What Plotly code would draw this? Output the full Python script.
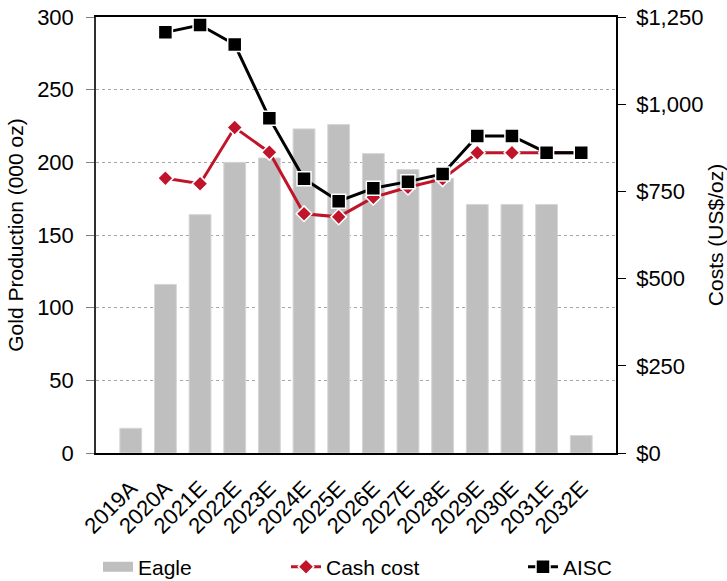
import plotly.graph_objects as go

# Annual data
years = ["2019A", "2020A", "2021E", "2022E", "2023E", "2024E", "2025E",
         "2026E", "2027E", "2028E", "2029E", "2030E", "2031E", "2032E"]
eagle_koz = [17, 116, 164, 200, 203, 223, 226, 206, 195, 189, 171, 171, 171, 12]
cash_cost = [None, 788, 772, 933, 862, 686, 677, 733, 762, 786, 861, 861, 861, 861]
aisc = [None, 1206, 1227, 1171, 960, 786, 722, 759, 778, 800, 909, 909, 861, 861]

left_ticks = [0, 50, 100, 150, 200, 250, 300]
right_ticks = [0, 250, 500, 750, 1000, 1250]
right_labels = ["$0", "$250", "$500", "$750", "$1,000", "$1,250"]

BAR = "#BFBFBF"
RED = "#C0142A"
FONT = "Arial, Liberation Sans, sans-serif"

fig = go.Figure()

fig.add_trace(go.Bar(
    x=years, y=eagle_koz, name="Eagle", marker=dict(color=BAR, line=dict(color="#D6D6D6", width=1)),
    showlegend=False, yaxis="y",
))
# legend swatch for the production bars (wide rectangle)
fig.add_trace(go.Scatter(
    x=[None], y=[None], mode="lines", name="Eagle",
    line=dict(color=BAR, width=12), legend="legend", yaxis="y",
))
fig.add_trace(go.Scatter(
    x=years, y=cash_cost, name="Cash cost", mode="lines+markers", yaxis="y2",
    line=dict(color=RED, width=3),
    marker=dict(symbol="diamond", size=12, color=RED, line=dict(color="white", width=1.5)),
    legend="legend2",
))
fig.add_trace(go.Scatter(
    x=years, y=aisc, name="AISC", mode="lines+markers", yaxis="y2",
    line=dict(color="black", width=3),
    marker=dict(symbol="square", size=14, color="black", line=dict(color="white", width=1.5)),
    legend="legend3",
))

legend_common = dict(orientation="h", xref="container", yref="container",
                     yanchor="middle", y=0.024, xanchor="left",
                     font=dict(family=FONT, size=21, color="black"),
                     bgcolor="rgba(0,0,0,0)", borderwidth=0)

fig.update_layout(
    width=727, height=581,
    margin=dict(l=96, r=111, t=17, b=128, autoexpand=False),
    paper_bgcolor="white", plot_bgcolor="white",
    font=dict(family=FONT, size=22, color="black"),
    bargap=0.37,
    xaxis=dict(
        type="category", tickangle=-45, tickfont=dict(size=22),
        showline=True, linecolor="black", linewidth=1.5, mirror=True,
        ticks="", showgrid=False, automargin=False, ticklabelstandoff=12,
    ),
    yaxis=dict(
        range=[0, 300], tickvals=left_ticks, ticks="outside", ticklen=8,
        tickcolor="#808080", showline=True, linecolor="#303030", linewidth=1.5,
        showgrid=True, gridcolor="#A6A6A6", griddash="dot", gridwidth=1,
        zeroline=False, ticklabelstandoff=8, automargin=False,
        title=dict(text="Gold Production (000 oz)", font=dict(size=21), standoff=8),
    ),
    yaxis2=dict(
        range=[0, 1250], tickvals=right_ticks, ticktext=right_labels,
        overlaying="y", side="right", ticks="outside", ticklen=8,
        tickcolor="black", showline=True, linecolor="black", linewidth=1.5,
        showgrid=False, zeroline=False, ticklabelstandoff=6, automargin=False,
        title=dict(text="Costs (US$/oz)", font=dict(size=21), standoff=8),
    ),
    legend=dict(x=98 / 727, **legend_common),
    legend2=dict(x=286 / 727, **legend_common),
    legend3=dict(x=523 / 727, **legend_common),
)

fig.write_html("out.html")
